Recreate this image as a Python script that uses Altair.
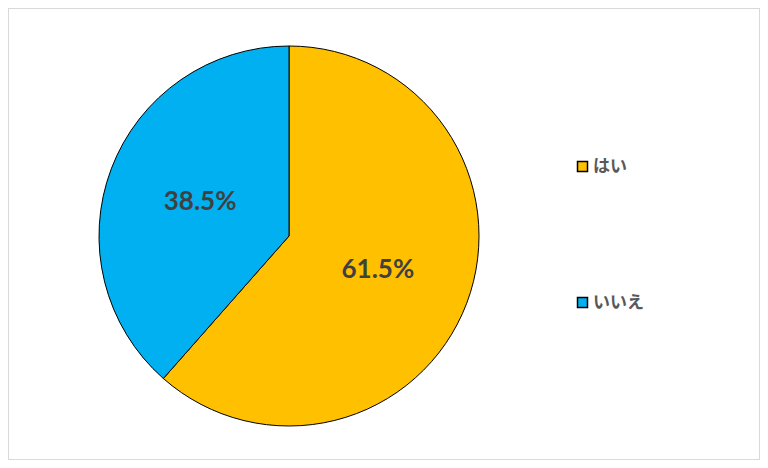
import altair as alt
import pandas as pd

categories = ["はい", "いいえ"]
values = [61.5, 38.5]
labels = ["61.5%", "38.5%"]
colors = ["#FFC000", "#00B0F0"]

df = pd.DataFrame({"cat": categories, "val": values, "label": labels, "ord": [0, 1]})

CX, CY, R = 281, 228, 190

base = alt.Chart(df).encode(
    theta=alt.Theta("val:Q", stack=True),
    order=alt.Order("ord:Q"),
)

pie = base.mark_arc(stroke="black", strokeWidth=1, radius=R).encode(
    x=alt.value(CX),
    y=alt.value(CY),
    color=alt.Color(
        "cat:N",
        scale=alt.Scale(domain=categories, range=colors),
        legend=alt.Legend(
            title=None,
            orient="none",
            legendX=566,
            legendY=150,
            symbolType="square",
            symbolSize=100,
            symbolStrokeColor="black",
            symbolStrokeWidth=1.5,
            symbolOpacity=1,
            labelFont="Noto Sans CJK JP",
            labelFontWeight="bold",
            labelFontSize=17,
            labelColor="#595959",
            labelOffset=2,
            rowPadding=118,
        ),
    ),
)

text = base.mark_text(
    radius=95,
    font="Lato",
    fontWeight="bold",
    fontSize=26,
    color="#404040",
).encode(
    x=alt.value(CX),
    y=alt.value(CY),
    text="label:N",
)

chart = (
    alt.layer(pie, text)
    .properties(width=752, height=452, padding=0, autosize=alt.AutoSizeParams(type="none"))
    .configure_view(stroke="#d9d9d9", strokeWidth=2)
)

chart.save("out.html", embed_options={"renderer": "svg", "actions": False})
